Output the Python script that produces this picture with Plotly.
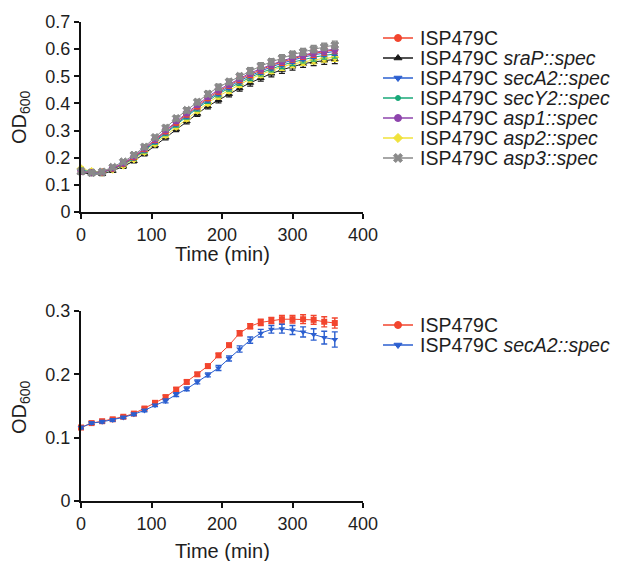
import plotly.graph_objects as go

# ---------------- data ----------------
time_min = [0, 15, 30, 45, 60, 75, 90, 105, 120, 135, 150, 165, 180,
            195, 210, 225, 240, 255, 270, 285, 300, 315, 330, 345, 360]

top_names = ["ISP479C", "ISP479C <i>sraP::spec</i>", "ISP479C <i>secA2::spec</i>",
             "ISP479C <i>secY2::spec</i>", "ISP479C <i>asp1::spec</i>",
             "ISP479C <i>asp2::spec</i>", "ISP479C <i>asp3::spec</i>"]

od_wt = [0.150, 0.145, 0.147, 0.160, 0.178, 0.202, 0.232, 0.265, 0.298, 0.330, 0.360, 0.390, 0.420,
         0.445, 0.467, 0.488, 0.507, 0.524, 0.540, 0.553, 0.565, 0.575, 0.584, 0.592, 0.598]
od_srap = [0.145, 0.140, 0.140, 0.152, 0.168, 0.188, 0.215, 0.245, 0.275, 0.305, 0.335, 0.362, 0.390,
           0.413, 0.435, 0.456, 0.476, 0.494, 0.510, 0.524, 0.536, 0.546, 0.553, 0.558, 0.562]
od_seca2 = [0.148, 0.144, 0.146, 0.158, 0.176, 0.200, 0.229, 0.261, 0.294, 0.326, 0.356, 0.386, 0.415,
            0.440, 0.462, 0.483, 0.502, 0.519, 0.535, 0.548, 0.560, 0.570, 0.579, 0.586, 0.592]
od_secy2 = [0.155, 0.148, 0.146, 0.158, 0.175, 0.198, 0.226, 0.258, 0.290, 0.322, 0.352, 0.382, 0.410,
            0.435, 0.456, 0.477, 0.496, 0.513, 0.528, 0.541, 0.552, 0.562, 0.570, 0.577, 0.582]
od_asp1 = [0.150, 0.145, 0.147, 0.162, 0.180, 0.205, 0.235, 0.268, 0.302, 0.335, 0.365, 0.395, 0.425,
           0.450, 0.470, 0.492, 0.512, 0.528, 0.543, 0.557, 0.568, 0.578, 0.587, 0.595, 0.600]
od_asp2 = [0.160, 0.150, 0.146, 0.157, 0.172, 0.195, 0.222, 0.252, 0.284, 0.315, 0.345, 0.374, 0.402,
           0.427, 0.448, 0.470, 0.490, 0.507, 0.522, 0.535, 0.545, 0.553, 0.560, 0.566, 0.570]
od_asp3 = [0.150, 0.145, 0.148, 0.165, 0.185, 0.210, 0.240, 0.275, 0.310, 0.345, 0.375, 0.405, 0.435,
           0.460, 0.480, 0.500, 0.520, 0.538, 0.553, 0.567, 0.580, 0.590, 0.600, 0.608, 0.615]
top_err = [0.006, 0.006, 0.006, 0.006, 0.007, 0.007, 0.008, 0.008, 0.009, 0.009, 0.010, 0.010, 0.010,
           0.011, 0.011, 0.011, 0.012, 0.012, 0.012, 0.013, 0.013, 0.013, 0.014, 0.014, 0.015]

bot_names = ["ISP479C", "ISP479C <i>secA2::spec</i>"]
bot_wt = [0.116, 0.123, 0.126, 0.129, 0.133, 0.138, 0.146, 0.155, 0.164, 0.176, 0.188, 0.200, 0.213,
          0.230, 0.246, 0.265, 0.276, 0.282, 0.285, 0.287, 0.287, 0.287, 0.286, 0.283, 0.281]
bot_wt_err = [0.002, 0.002, 0.002, 0.002, 0.002, 0.002, 0.002, 0.002, 0.003, 0.003, 0.003, 0.003, 0.003,
              0.003, 0.003, 0.004, 0.004, 0.005, 0.005, 0.006, 0.006, 0.007, 0.007, 0.008, 0.008]
bot_seca2 = [0.116, 0.123, 0.125, 0.128, 0.132, 0.137, 0.143, 0.151, 0.158, 0.168, 0.177, 0.188, 0.199,
             0.210, 0.225, 0.240, 0.254, 0.265, 0.271, 0.272, 0.270, 0.267, 0.263, 0.258, 0.255]
bot_seca2_err = [0.002, 0.002, 0.002, 0.002, 0.002, 0.002, 0.002, 0.002, 0.003, 0.003, 0.003, 0.003, 0.003,
                 0.004, 0.004, 0.005, 0.005, 0.006, 0.006, 0.007, 0.007, 0.008, 0.009, 0.010, 0.012]

x_ticks = [0, 100, 200, 300, 400]
top_y_ticks = [0, 0.1, 0.2, 0.3, 0.4, 0.5, 0.6, 0.7]
bot_y_ticks = [0, 0.1, 0.2, 0.3]

# ---------------- layout geometry ----------------
# page has an 8px body margin: the figure is sized to fill the rest of the window
OFF = 8
WIN_W, WIN_H = 620, 561
W, H = WIN_W - OFF, WIN_H - OFF

def px(x):
    return (x - OFF) / W

def py(y):
    return 1 - (y - OFF) / H

FONT = "Liberation Sans, Arial, sans-serif"
TXT = "#1e1e1e"
top_series = [od_wt, od_srap, od_seca2, od_secy2, od_asp1, od_asp2, od_asp3]
top_colors = ["#f2452e", "#1a1a1a", "#2b5fd0", "#18a878", "#8e44ad", "#f0e23a", "#8a8a8a"]
top_symbols = ["circle", "triangle-up", "triangle-down", "circle", "circle", "diamond", "x"]
top_sizes = [6, 6, 6, 4, 6, 6, 7]
bot_series = [bot_wt, bot_seca2]
bot_errs = [bot_wt_err, bot_seca2_err]
bot_colors = ["#f2452e", "#2b5fd0"]
bot_symbols = ["square", "triangle-down"]
bot_leg_symbols = ["circle", "triangle-down"]

fig = go.Figure()

order = [1, 5, 3, 2, 0, 4, 6]
for i in order:
    fig.add_trace(go.Scatter(
        x=time_min, y=top_series[i], mode="lines+markers",
        line=dict(color=top_colors[i], width=1),
        marker=dict(symbol=top_symbols[i], size=top_sizes[i], color=top_colors[i],
                    line=dict(color=top_colors[i], width=1)),
        error_y=dict(type="data", array=top_err, color=top_colors[i], thickness=1.2, width=3),
        cliponaxis=False, showlegend=False, xaxis="x", yaxis="y"))

for i in range(2):
    fig.add_trace(go.Scatter(
        x=time_min, y=bot_series[i], mode="lines+markers",
        line=dict(color=bot_colors[i], width=1),
        marker=dict(symbol=bot_symbols[i], size=6, color=bot_colors[i]),
        error_y=dict(type="data", array=bot_errs[i], color=bot_colors[i], thickness=1.4, width=3),
        cliponaxis=False, showlegend=False, xaxis="x2", yaxis="y2"))

# ---------------- custom legends (window-pixel helper axis) ----------------
LEG_X0, LEG_XM, LEG_X1, LEG_TX = 383, 398, 413, 418
top_leg_y0, bot_leg_y0, leg_dy = 38, 325, 20

def add_legend(names, colors, symbols, sizes, y0):
    for k, name in enumerate(names):
        yy = y0 + k * leg_dy
        fig.add_trace(go.Scatter(x=[LEG_X0, LEG_X1], y=[yy, yy], mode="lines",
                                 line=dict(color=colors[k], width=1.5),
                                 showlegend=False, hoverinfo="skip", xaxis="x3", yaxis="y3"))
        fig.add_trace(go.Scatter(x=[LEG_XM], y=[yy], mode="markers",
                                 marker=dict(symbol=symbols[k], size=sizes[k] + 1, color=colors[k],
                                             line=dict(color=colors[k], width=1)),
                                 showlegend=False, hoverinfo="skip", xaxis="x3", yaxis="y3"))
        fig.add_annotation(x=px(LEG_TX), y=py(yy), xref="paper", yref="paper",
                           text=name, showarrow=False, xanchor="left", yanchor="middle",
                           font=dict(family=FONT, size=19.5, color=TXT))

add_legend(top_names, top_colors, top_symbols, top_sizes, top_leg_y0)
add_legend(bot_names, bot_colors, bot_leg_symbols, [6, 6], bot_leg_y0)

# ---------------- axis titles ----------------
for (yc, tc) in [(117, 254), (407, 551)]:
    fig.add_annotation(x=px(20), y=py(yc), xref="paper", yref="paper",
                       text="OD<sub>600</sub>", textangle=-90, showarrow=False,
                       xanchor="center", yanchor="middle",
                       font=dict(family=FONT, size=20, color=TXT))
    fig.add_annotation(x=px(222), y=py(tc), xref="paper", yref="paper",
                       text="Time (min)", showarrow=False, xanchor="center", yanchor="middle",
                       font=dict(family=FONT, size=20, color=TXT))

axis_common = dict(showline=True, linecolor="#111", linewidth=2, ticks="outside",
                   tickcolor="#111", tickwidth=2, ticklen=5, showgrid=False, zeroline=False,
                   automargin=False, tickfont=dict(family=FONT, size=18, color=TXT))

xd = [px(81), px(363)]
fig.update_layout(
    template="none",
    width=W, height=H, margin=dict(l=0, r=0, t=0, b=0, pad=0), autosize=False,
    paper_bgcolor="white", plot_bgcolor="rgba(0,0,0,0)",
    xaxis=dict(domain=xd, range=[0, 400], tickvals=x_ticks, anchor="y", **axis_common),
    yaxis=dict(domain=[py(212), py(22)], range=[0, 0.7], tickvals=top_y_ticks,
               anchor="x", **axis_common),
    xaxis2=dict(domain=xd, range=[0, 400], tickvals=x_ticks, anchor="y2", **axis_common),
    yaxis2=dict(domain=[py(501), py(311)], range=[0, 0.3], tickvals=bot_y_ticks,
                anchor="x2", **axis_common),
    xaxis3=dict(domain=[0, 1], range=[OFF, WIN_W], visible=False, fixedrange=True, anchor="y3",
                automargin=False),
    yaxis3=dict(domain=[0, 1], range=[WIN_H, OFF], visible=False, fixedrange=True, anchor="x3",
                automargin=False),
    showlegend=False,
)

fig.write_html("out.html")
